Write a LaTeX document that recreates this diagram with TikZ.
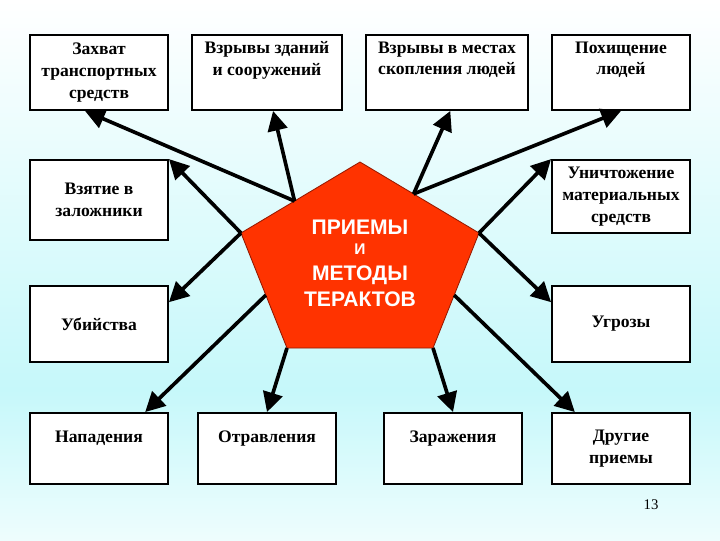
\documentclass[tikz,border=0pt]{standalone}
\usepackage{fontspec}
\setmainfont{Liberation Serif}
\newfontfamily\headfont{Liberation Sans}
\usetikzlibrary{arrows.meta,calc}
\definecolor{bgcyan}{RGB}{198,248,250}
\definecolor{pentared}{RGB}{255,51,0}
\definecolor{pentaedge}{RGB}{150,25,0}

\begin{document}
\begin{tikzpicture}[x=0.025cm, y=-0.025cm]

\tikzset{methodbox/.style={draw, rectangle, fill=white, line width=1.3pt, align=center, inner sep=0pt, minimum width=3.45cm, minimum height=1.875cm, font=\fontsize{12.5}{15.6}\selectfont\bfseries}}
\tikzset{methodarrow/.style={line width=2.6pt, -{Triangle[length=14pt, width=14pt]}}}

% background
\useasboundingbox (0, 0) rectangle (720, 540);
\shade[top color=white, bottom color=bgcyan] (0, 0) rectangle (720, 390);
\shade[top color=bgcyan, bottom color=white!70!bgcyan] (0, 390) rectangle (720, 540);

% central pentagon
\coordinate (p1) at (360, 162);
\coordinate (p2) at (479, 233);
\coordinate (p3) at (433, 348);
\coordinate (p4) at (287, 348);
\coordinate (p5) at (241, 233);
\draw[fill=pentared, draw=pentaedge, line width=0.6pt] (p1) -- (p2) -- (p3) -- (p4) -- (p5) -- cycle;
\node[text=white, align=center, inner sep=0pt, font=\headfont\bfseries\fontsize{15}{18.4}\selectfont] at (360, 263) (core)
  {ПРИЕМЫ\\[-4pt]{\fontsize{11}{13}\selectfont И}\\МЕТОДЫ\\ТЕРАКТОВ};

% upper row
\node[methodbox] at ( 99, 72.5) (zah) {Захват\\транспортных\\средств};
\node[methodbox, minimum width=3.75cm] at (267, 72.5) (vzd) {Взрывы зданий\\и сооружений\\\strut};
\node[methodbox, minimum width=4.05cm] at (447, 72.5) (vzm) {Взрывы в местах\\скопления людей\\\strut};
\node[methodbox] at (621, 72.5) (poh) {Похищение\\людей\\\strut};

% side boxes
\node[methodbox, minimum height=2cm] at ( 99, 200) (vzl) {Взятие в\\заложники};
\node[methodbox, minimum height=1.825cm] at (621, 196.5) (unich) {Уничтожение\\материальных\\средств};
\node[methodbox, minimum height=1.9cm] at ( 99, 324) (ubi) {Убийства};
\node[methodbox, minimum height=1.9cm] at (621, 324) (ugr) {Угрозы};

% lower row
\node[methodbox, minimum height=1.775cm] at ( 99, 448.5) (nap) {Нападения\\[-4pt]\strut};
\node[methodbox, minimum height=1.775cm] at (267, 448.5) (otr) {Отравления\\[-4pt]\strut};
\node[methodbox, minimum height=1.775cm] at (453, 448.5) (zar) {Заражения\\[-4pt]\strut};
\node[methodbox, minimum height=1.775cm] at (621, 448.5) (dr) {Другие\\приемы};

% page number
\node[font=\fontsize{10.5}{12}\selectfont] at (651, 505) (page) {13};

% arrows
\coordinate (ul) at ($(p5)!0.45!(p1)$);
\coordinate (ur) at ($(p1)!0.45!(p2)$);
\coordinate (ll) at ($(p5)!0.54!(p4)$);
\coordinate (lr) at ($(p2)!0.54!(p3)$);
\draw[methodarrow] (ul) -- ($(zah.south west)!0.4!(zah.south east)$);
\draw[methodarrow] (ul) -- ($(vzd.south west)!0.54!(vzd.south east)$);
\draw[methodarrow] (ur) -- ($(vzm.south west)!0.52!(vzm.south east)$);
\draw[methodarrow] (ur) -- (poh.south);
\draw[methodarrow] (p5) -- (vzl.north east);
\draw[methodarrow] (p2) -- (unich.north west);
\draw[methodarrow] (p5) -- ($(ubi.north east)!0.22!(ubi.south east)$);
\draw[methodarrow] (p2) -- ($(ugr.north west)!0.22!(ugr.south west)$);
\draw[methodarrow] (ll) -- ($(nap.north west)!0.83!(nap.north east)$);
\draw[methodarrow] (p4) -- (otr.north);
\draw[methodarrow] (p3) -- (zar.north);
\draw[methodarrow] (lr) -- ($(dr.north west)!0.17!(dr.north east)$);

\end{tikzpicture}
\end{document}
